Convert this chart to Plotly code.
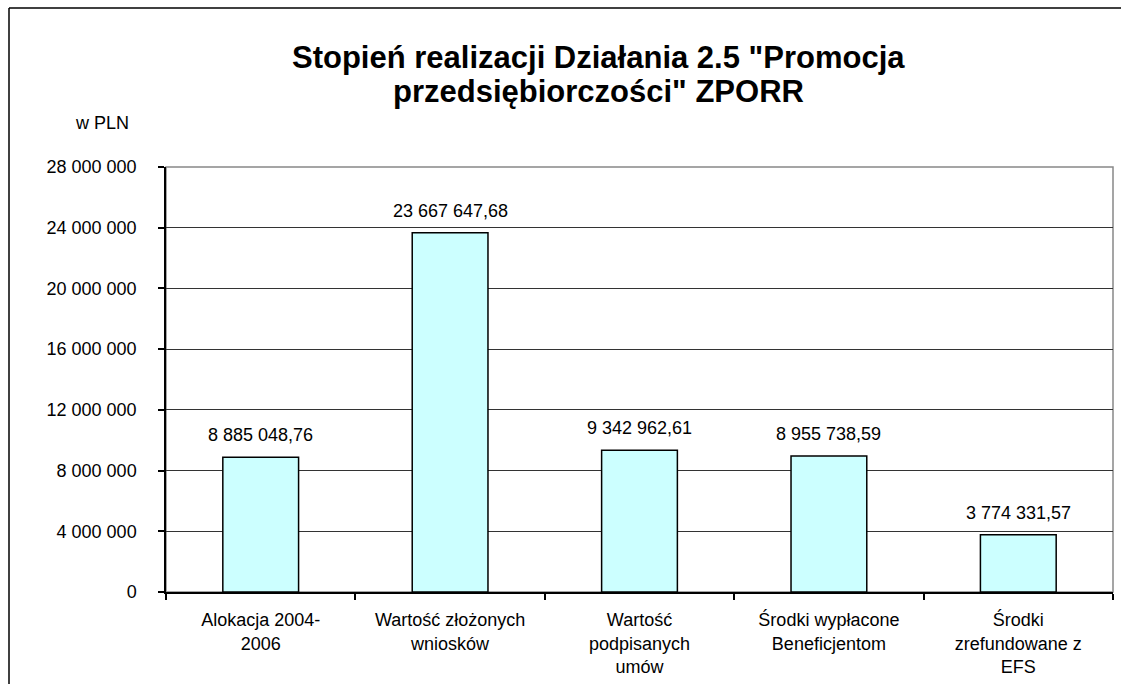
import plotly.graph_objects as go

# Categories (wrapped as in the axis labels) and amounts in PLN
categories = [
    "Alokacja 2004-<br>2006",
    "Wartość złożonych<br>wniosków",
    "Wartość<br>podpisanych<br>umów",
    "Środki wypłacone<br>Beneficjentom",
    "Środki<br>zrefundowane z<br>EFS",
]
values = [8885048.76, 23667647.68, 9342962.61, 8955738.59, 3774331.57]
y_ticks = [0, 4000000, 8000000, 12000000, 16000000, 20000000, 24000000, 28000000]
title_lines = ["Stopień realizacji Działania 2.5 \"Promocja",
               "przedsiębiorczości\" ZPORR"]

FONT = "Liberation Sans, Arial, sans-serif"

W, H = 1121, 684
L, R, T, B = 166, 1113, 167, 592  # plot area in pixels


def px_x(p):
    return (p - L) / (R - L)


def px_y(p):
    return (B - p) / (B - T)


def pl_number(v):
    return f"{v:,.2f}".replace(",", " ").replace(".", ",")


fig = go.Figure()
fig.add_trace(go.Bar(
    x=categories,
    y=values,
    marker=dict(color="#CCFFFF", line=dict(color="#000000", width=1.5)),
    hoverinfo="skip",
))

# value labels above the bars
for c, v in zip(categories, values):
    fig.add_annotation(
        x=c, y=v, xref="x", yref="y",
        text=pl_number(v), showarrow=False,
        yanchor="middle", yshift=22,
        font=dict(family=FONT, size=18, color="#000000"),
    )

# title, two lines
for line, ypix in zip(title_lines, [58, 92]):
    fig.add_annotation(
        xref="paper", yref="paper", x=px_x(598), y=px_y(ypix),
        text=f"<b>{line}</b>",
        showarrow=False, xanchor="center", yanchor="middle",
        font=dict(family=FONT, size=31, color="#000000"),
    )

# unit label
fig.add_annotation(
    xref="paper", yref="paper", x=px_x(102), y=px_y(123),
    text="w PLN", showarrow=False, xanchor="center", yanchor="middle",
    font=dict(family=FONT, size=18, color="#000000"),
)

# plot area border (top and right in grey)
fig.add_shape(type="rect", xref="paper", yref="paper", x0=0, y0=0, x1=1, y1=1,
              line=dict(color="#888888", width=1.5), layer="between")

# outer chart frame
fig.add_shape(type="line", xref="paper", yref="paper",
              x0=px_x(9), y0=px_y(8), x1=px_x(1130), y1=px_y(8),
              line=dict(color="#000000", width=1.5))
fig.add_shape(type="line", xref="paper", yref="paper",
              x0=px_x(9), y0=px_y(8), x1=px_x(9), y1=px_y(700),
              line=dict(color="#000000", width=1.5))

fig.update_layout(
    width=W, height=H,
    margin=dict(l=L, r=W - R, t=T, b=H - B, pad=0),
    paper_bgcolor="#FFFFFF", plot_bgcolor="#FFFFFF",
    separators=", ",
    bargap=0.6,
    showlegend=False,
    font=dict(family=FONT, size=18, color="#000000"),
)

fig.update_xaxes(
    type="category",
    showline=True, linecolor="#000000", linewidth=1.5,
    ticks="outside", ticklen=6, tickcolor="#000000", tickwidth=1.5,
    tickson="boundaries",
    showgrid=False,
    tickfont=dict(family=FONT, size=18, color="#000000"),
    ticklabelstandoff=11,
    fixedrange=True,
)

fig.update_yaxes(
    range=[0, 28000000],
    tickvals=y_ticks,
    tickformat=",d",
    showline=True, linecolor="#000000", linewidth=1.5,
    ticks="outside", ticklen=6, tickcolor="#000000", tickwidth=1.5,
    showgrid=True, gridcolor="#333333", gridwidth=1,
    zeroline=False,
    tickfont=dict(family=FONT, size=18, color="#000000"),
    ticklabelstandoff=18,
    fixedrange=True,
)

fig.write_html("out.html", config={"displayModeBar": False})
